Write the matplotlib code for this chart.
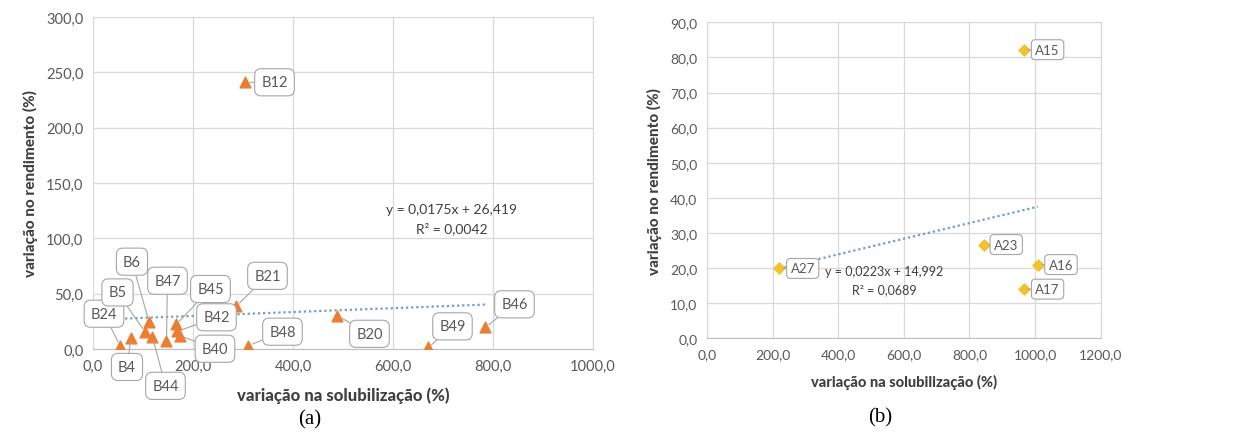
import numpy as np
import matplotlib.pyplot as plt
from matplotlib.ticker import FuncFormatter, MultipleLocator

plt.rcParams['font.family'] = ['Lato', 'DejaVu Sans']

# (a) amostras B
b_names = ['B24', 'B4', 'B5', 'B6', 'B44', 'B47', 'B45', 'B42', 'B40',
           'B21', 'B48', 'B12', 'B20', 'B49', 'B46']
b_solub = [54, 76, 105, 112, 119, 147, 167, 169, 174,
           287, 311, 305, 489, 671, 785]
b_rend = [3.0, 10.0, 15.0, 24.7, 11.0, 7.5, 22.6, 16.0, 12.0,
          39.0, 3.0, 241.0, 30.0, 1.5, 19.6]
b_slope, b_icpt, b_r2 = 0.0175, 26.419, 0.0042

# (b) amostras A
a_names = ['A27', 'A15', 'A23', 'A16', 'A17']
a_solub = [218, 965, 845, 1009, 965]
a_rend = [19.9, 82.2, 26.7, 21.0, 14.0]
a_slope, a_icpt, a_r2 = 0.0223, 14.992, 0.0689

# label offsets in pixels
b_offsets = {'B24': (-16, 32), 'B4': (-4, -29), 'B5': (-28, 40), 'B6': (-17, 60),
             'B44': (13, -49), 'B47': (1, 60), 'B45': (34, 35), 'B42': (39, 14),
             'B40': (35, -13), 'B21': (31, 30), 'B48': (34, 14), 'B12': (29, 0),
             'B20': (32, -18), 'B49': (24, 21), 'B46': (29, 23)}
a_offsets = {'A27': (24, 0), 'A15': (24, 0), 'A23': (22, 0), 'A16': (23, 0), 'A17': (24, 0)}

grey_txt = '#595959'
comma = FuncFormatter(lambda v, p: f'{v:.1f}'.replace('.', ','))


def fmt(v, d):
    return f'{v:.{d}f}'.replace('.', ',')


def style_axes(ax, xmax, xstep, ymax, ystep, tsize, lsize):
    ax.set_xlim(0, xmax)
    ax.set_ylim(0, ymax)
    ax.xaxis.set_major_locator(MultipleLocator(xstep))
    ax.yaxis.set_major_locator(MultipleLocator(ystep))
    ax.xaxis.set_major_formatter(comma)
    ax.yaxis.set_major_formatter(comma)
    ax.grid(True, color='#D9D9D9', lw=0.9)
    ax.set_axisbelow(True)
    for s in ax.spines.values():
        s.set_color('#D9D9D9')
    ax.spines['bottom'].set_color('#BFBFBF')
    ax.tick_params(length=0, labelsize=tsize, colors=grey_txt, pad=7)
    ax.set_xlabel('variação na solubilização (%)', fontsize=lsize, fontweight='black',
                  color='#404040', labelpad=10)
    ax.set_ylabel('variação no rendimento (%)', fontsize=11, fontweight='black',
                  color='#404040', labelpad=6)


def label_points(ax, names, xs, ys, offsets, size, pad):
    for n, x, y in zip(names, xs, ys):
        ax.annotate(n, (x, y), xytext=offsets[n], textcoords='offset pixels',
                    ha='center', va='center', fontsize=size, color=grey_txt,
                    bbox=dict(boxstyle=f'round,pad={pad}', fc='white', ec='#A6A6A6', lw=0.8),
                    arrowprops=dict(arrowstyle='-', color='#A6A6A6', lw=0.8,
                                    shrinkA=0, shrinkB=3),
                    zorder=5)


fig = plt.figure(figsize=(12.6, 4.39), dpi=100)

# --- (a)
ax1 = fig.add_axes([0.0738, 0.2027, 0.3968, 0.7563])
style_axes(ax1, 1000, 200, 300, 50, 10.5, 12)
xt = np.array([min(b_solub), max(b_solub)])
ax1.plot(xt, b_slope * xt + b_icpt, ls=(0, (1, 1.3)), color='#6E9FC8', lw=1.6, zorder=2)
ax1.scatter(b_solub, b_rend, marker='^', s=60, color='#ED7D31', zorder=4)
label_points(ax1, b_names, b_solub, b_rend, b_offsets, 10.5, 0.45)
ax1.text(718, 126.5, f'y = {fmt(b_slope, 4)}x + {fmt(b_icpt, 3)}', ha='center', va='center',
         fontsize=10, color='#404040')
ax1.text(718, 110, f'R² = {fmt(b_r2, 4)}', ha='center', va='center',
         fontsize=10, color='#404040')

# --- (b)
ax2 = fig.add_axes([0.5613, 0.2271, 0.3122, 0.7198])
style_axes(ax2, 1200, 200, 90, 10, 10, 10.5)
xt = np.array([min(a_solub), max(a_solub)])
ax2.plot(xt, a_slope * xt + a_icpt, ls=(0, (1, 1.3)), color='#6E9FC8', lw=1.6, zorder=2)
ax2.scatter(a_solub, a_rend, marker='D', s=32, color='#F2C12E', zorder=4)
label_points(ax2, a_names, a_solub, a_rend, a_offsets, 9.5, 0.3)
ax2.text(540, 19.3, f'y = {fmt(a_slope, 4)}x + {fmt(a_icpt, 3)}', ha='center', va='center',
         fontsize=9, color='#404040')
ax2.text(540, 14, f'R² = {fmt(a_r2, 4)}', ha='center', va='center',
         fontsize=9, color='#404040')

fig.text(310 / 1260, 1 - 420 / 439, '(a)', family='Liberation Serif', fontsize=15,
         ha='center', va='center', color='black')
fig.text(880 / 1260, 1 - 418 / 439, '(b)', family='Liberation Serif', fontsize=15,
         ha='center', va='center', color='black')

fig.savefig('out.png', dpi=100)
